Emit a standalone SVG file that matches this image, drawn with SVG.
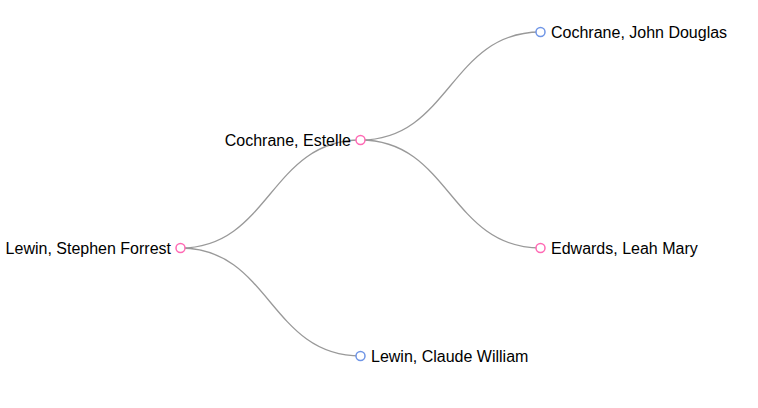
<svg xmlns="http://www.w3.org/2000/svg" width="758" height="408" viewBox="0 0 758 408">
<style>
.link{fill:none;stroke:#999;stroke-width:1.3}
.node circle{fill:#fff;stroke-width:1.5}
.f circle{stroke:#ff69b4}
.m circle{stroke:#6f95e6}
text{font-family:"Liberation Sans",Arial,sans-serif;font-size:16px;fill:#000}
</style>
<rect width="758" height="408" fill="#fff"/>
<g id="links">
<path class="link" d="M180.5,248C270,248 270,140 360.5,140"/>
<path class="link" d="M180.5,248C270,248 270,356 360.5,356"/>
<path class="link" d="M360.5,140C450,140 450,32 540.5,32"/>
<path class="link" d="M360.5,140C450,140 450,248 540.5,248"/>
</g>
<g id="n-stephen" class="node f"><circle cx="180.5" cy="248" r="4.5"/><text x="171" y="253.5" text-anchor="end">Lewin, Stephen Forrest</text></g>
<g id="n-estelle" class="node f"><circle cx="360.5" cy="140" r="4.5"/><text x="351" y="145.5" text-anchor="end">Cochrane, Estelle</text></g>
<g id="n-claude" class="node m"><circle cx="360.5" cy="356" r="4.5"/><text x="371" y="361.5">Lewin, Claude William</text></g>
<g id="n-john" class="node m"><circle cx="540.5" cy="32" r="4.5"/><text x="551" y="37.5">Cochrane, John Douglas</text></g>
<g id="n-leah" class="node f"><circle cx="540.5" cy="248" r="4.5"/><text x="551" y="253.5">Edwards, Leah Mary</text></g>
</svg>
